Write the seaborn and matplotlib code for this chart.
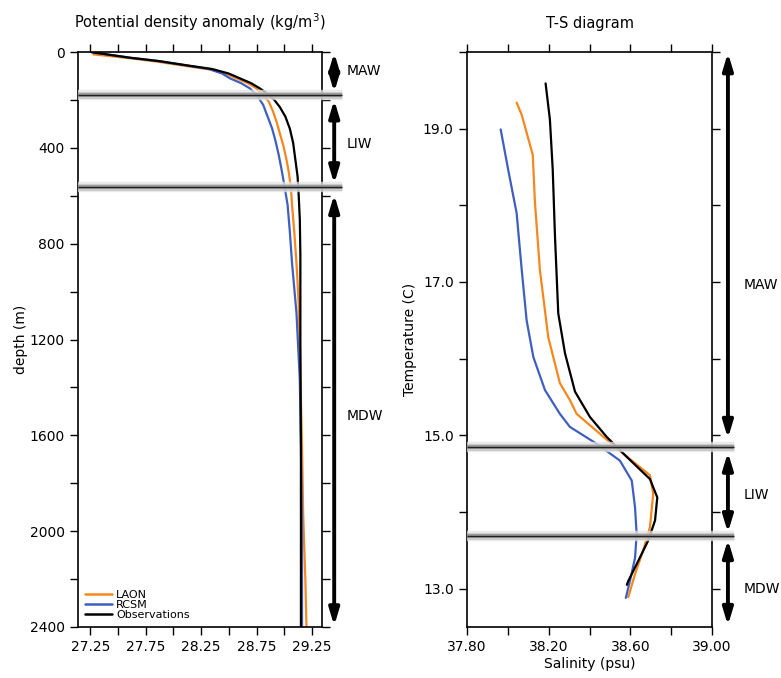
import numpy as np
import pandas as pd
import matplotlib
matplotlib.use('Agg')
import matplotlib.pyplot as plt
import seaborn as sns
from matplotlib.ticker import MultipleLocator, FormatStrFormatter


# Density profiles (depth in m, potential density anomaly in kg/m3)

depth_laon = [10, 26, 40, 59, 73, 90, 110, 130, 152, 180, 207, 250, 291, 340, 388, 450, 500, 569, 639, 750, 882, 1050, 1230, 1450, 1647, 1925, 2204, 2400]
dens_laon = [27.28, 27.61, 27.85, 28.12, 28.33, 28.47, 28.57, 28.67, 28.75, 28.81, 28.86, 28.90, 28.93, 28.96, 28.99, 29.02, 29.04, 29.06, 29.07, 29.09, 29.11, 29.13, 29.14, 29.15, 29.16, 29.17, 29.19, 29.20]
depth_rcsm = [1, 24, 38, 57, 71, 90, 110, 130, 152, 185, 221, 270, 319, 370, 430, 490, 555, 639, 750, 882, 1090, 1369, 1647, 1953, 2400]
dens_rcsm = [27.265, 27.61, 27.87, 28.13, 28.32, 28.44, 28.51, 28.61, 28.69, 28.76, 28.81, 28.85, 28.89, 28.92, 28.95, 28.975, 29.00, 29.03, 29.05, 29.07, 29.11, 29.14, 29.15, 29.16, 29.16]
depth_obs = [1, 24, 38, 57, 71, 90, 110, 130, 152, 175, 200, 230, 270, 320, 380, 450, 520, 600, 700, 850, 1200, 1650, 2050, 2400]
dens_obs = [27.265, 27.61, 27.87, 28.14, 28.35, 28.50, 28.60, 28.70, 28.78, 28.85, 28.91, 28.96, 29.01, 29.05, 29.08, 29.10, 29.12, 29.13, 29.14, 29.145, 29.145, 29.15, 29.15, 29.15]

# T-S curves (salinity psu, temperature C)

sal_laon = [38.043, 38.068, 38.122, 38.133, 38.157, 38.198, 38.255, 38.304, 38.337, 38.451, 38.566, 38.696, 38.712, 38.696, 38.663, 38.623, 38.590]
temp_laon = [19.34, 19.18, 18.66, 18.03, 17.16, 16.28, 15.68, 15.46, 15.28, 15.02, 14.76, 14.48, 14.24, 13.80, 13.50, 13.19, 12.89]
sal_rcsm = [37.965, 38.002, 38.043, 38.068, 38.092, 38.125, 38.182, 38.255, 38.304, 38.435, 38.549, 38.607, 38.623, 38.631, 38.623, 38.598, 38.578]
temp_rcsm = [18.99, 18.46, 17.90, 17.16, 16.50, 16.02, 15.59, 15.28, 15.11, 14.89, 14.67, 14.41, 14.06, 13.71, 13.40, 13.10, 12.88]
sal_obs = [38.185, 38.206, 38.220, 38.231, 38.247, 38.280, 38.329, 38.402, 38.484, 38.582, 38.696, 38.732, 38.721, 38.688, 38.631, 38.590, 38.583]
temp_obs = [19.59, 19.12, 18.46, 17.59, 16.59, 16.07, 15.57, 15.24, 14.98, 14.72, 14.43, 14.19, 13.89, 13.63, 13.32, 13.10, 13.05]

# Water mass boundaries
bands_depth = [180, 565]
bands_temp = [14.85, 13.69]

names = ['LAON', 'RCSM', 'Observations']
colors = ['#f7861f', '#3f5fc0', 'black']

prof = pd.concat([
    pd.DataFrame({'depth': z, 'dens': d, 'model': n})
    for z, d, n in zip([depth_laon, depth_rcsm, depth_obs], [dens_laon, dens_rcsm, dens_obs], names)])
ts = pd.concat([
    pd.DataFrame({'sal': s, 'temp': t, 'model': n})
    for s, t, n in zip([sal_laon, sal_rcsm, sal_obs], [temp_laon, temp_rcsm, temp_obs], names)])

sns.set_style('ticks')
plt.rcParams['font.family'] = ['DejaVu Sans']
plt.rcParams.update({'text.color': 'black', 'axes.labelcolor': 'black',
                     'xtick.color': 'black', 'ytick.color': 'black'})

fig = plt.figure(figsize=(7.81, 6.78), dpi=100)
ax1 = fig.add_axes([78/781, 1-627/678, 244/781, 575/678])
ax2 = fig.add_axes([467/781, 1-627/678, 245/781, 575/678])

pal = dict(zip(names, colors))

sns.lineplot(data=prof, x='dens', y='depth', hue='model', palette=pal, sort=False,
             estimator=None, lw=1.6, ax=ax1)
sns.lineplot(data=ts, x='sal', y='temp', hue='model', palette=pal, sort=False,
             estimator=None, lw=1.6, ax=ax2, legend=False)


def band(ax, y, x1):
    tr = ax.get_yaxis_transform()
    for lw, c, a in [(7.5, '#e4e4e4', 0.75), (5, '#bdbdbd', 0.7), (2.8, '#8a8a8a', 0.75), (1.0, '#202020', 1.0)]:
        ax.plot([0, x1], [y, y], color=c, lw=lw, alpha=a, transform=tr, clip_on=False,
                solid_capstyle='butt', zorder=5)


def arrow(ax, x, y0, y1):
    ax.annotate('', xy=(x, y0), xytext=(x, y1), xycoords=('axes fraction', 'data'),
                textcoords=('axes fraction', 'data'), annotation_clip=False,
                arrowprops=dict(arrowstyle='<|-|>,head_length=1.0,head_width=0.3',
                                color='black', lw=2.8, shrinkA=0, shrinkB=0))


# left panel
ax1.set_xlim(27.14, 29.34)
ax1.set_ylim(2400, 0)
ax1.xaxis.set_minor_locator(MultipleLocator(0.25))
ax1.set_xticks([27.25, 27.75, 28.25, 28.75, 29.25])
ax1.xaxis.set_major_formatter(FormatStrFormatter('%.2f'))
ax1.yaxis.set_major_locator(MultipleLocator(400))
ax1.yaxis.set_minor_locator(MultipleLocator(200))
ax1.set_xlabel('')
ax1.set_ylabel('depth (m)', fontsize=10, labelpad=1)
ax1.set_title('Potential density anomaly (kg/m$^3$)', fontsize=10.5, pad=17)
for d in bands_depth:
    band(ax1, d, 1.08)
arrow(ax1, 1.05, 3, 168)
arrow(ax1, 1.05, 200, 550)
arrow(ax1, 1.05, 595, 2395)
tr1 = ax1.get_yaxis_transform()
for lab, y in [('MAW', 78), ('LIW', 385), ('MDW', 1520)]:
    ax1.text(1.1, y, lab, transform=tr1, fontsize=10, va='center', ha='left')
leg = ax1.legend(loc='lower left', frameon=False, fontsize=8, labelspacing=0.0,
                 handlelength=2.4, handletextpad=0.4, borderaxespad=0.25)
for l in leg.get_lines():
    l.set_linewidth(1.8)

# right panel
ax2.set_xlim(37.8, 39.0)
ax2.set_ylim(12.5, 20.0)
ax2.set_xticks([37.8, 38.2, 38.6, 39.0])
ax2.xaxis.set_minor_locator(MultipleLocator(0.2))
ax2.xaxis.set_major_formatter(FormatStrFormatter('%.2f'))
ax2.set_yticks([13, 15, 17, 19])
ax2.yaxis.set_minor_locator(MultipleLocator(1))
ax2.yaxis.set_major_formatter(FormatStrFormatter('%.1f'))
ax2.set_xlabel('Salinity (psu)', fontsize=10, labelpad=2)
ax2.set_ylabel('Temperature (C)', fontsize=10, labelpad=4)
ax2.set_title('T-S diagram', fontsize=10.5, pad=17)
for t in bands_temp:
    band(ax2, t, 1.09)
arrow(ax2, 1.065, 19.99, 14.96)
arrow(ax2, 1.065, 14.78, 13.73)
arrow(ax2, 1.065, 13.64, 12.52)
tr2 = ax2.get_yaxis_transform()
for lab, y in [('MAW', 16.96), ('LIW', 14.22), ('MDW', 13.0)]:
    ax2.text(1.13, y, lab, transform=tr2, fontsize=10, va='center', ha='left')

for ax in (ax1, ax2):
    ax.tick_params(which='both', direction='out', length=6, width=1,
                   top=True, right=True, labelsize=10, color='black')
    for s in ax.spines.values():
        s.set_linewidth(1.2)
        s.set_color('black')

fig.savefig('out.png', dpi=100)
